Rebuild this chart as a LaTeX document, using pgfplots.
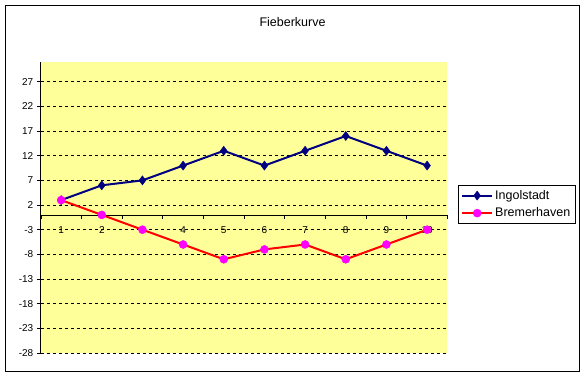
\documentclass[border=0pt]{standalone}
\usepackage{fontspec}
\setmainfont{Liberation Sans}
\usepackage{pgfplots}
\pgfplotsset{compat=1.18}
\definecolor{plotbg}{RGB}{255,255,153}
\definecolor{ing}{RGB}{0,0,128}
\definecolor{brem}{RGB}{255,0,0}
\definecolor{bremmark}{RGB}{255,0,255}
\begin{document}
\begin{tikzpicture}[x=1pt,y=1pt]
\path[use as bounding box] (0,0) rectangle (585,378);
\draw[black, line width=1pt] (5.5,6.5) rectangle (579.5,372.5);
\node[font=\fontsize{12.5}{14}\selectfont] at (292.5,356) {Fieberkurve};
\begin{axis}[at={(40.8pt,25pt)}, anchor=south west, scale only axis,
  width=406.6pt, height=291pt,
  xmin=0.5, xmax=10.5, ymin=-28, ymax=31,
  axis x line=middle, axis y line=left,
  axis line style={-, black, line width=0.8pt},
  axis background/.style={fill=plotbg},
  xtick={1,...,10}, ytick={-28,-23,...,27},
  xtick style={draw=none},
  minor xtick={0.5,1.5,...,10.5},
  minor x tick style={draw=black, line width=0.6pt},
  minor tick length=4pt,
  ytick style={black, line width=0.6pt},
  major tick length=4pt,
  tick align=outside,
  ymajorgrids, major grid style={black, line width=0.6pt, dash pattern=on 3pt off 3pt},
  tick label style={font=\fontsize{10}{12}\selectfont},
  /pgf/number format/assume math mode=true,
  xticklabel style={yshift=-4pt},
  legend style={at={(1.026,0.577)}, anchor=north west, draw=black, fill=white,
    font=\fontsize{12.5}{14}\selectfont, row sep=3pt, inner xsep=3pt, inner ysep=3pt},
  legend cell align=left,
  legend image code/.code={\draw[mark repeat=2,mark phase=2] plot coordinates {(0pt,0pt) (15pt,0pt) (30pt,0pt)};},
  clip=false,
]
\addplot[color=ing, line width=2pt, mark=diamond*, mark size=4.5pt, mark options={fill=ing, draw=ing, line width=0.5pt}]
 coordinates {(1,3) (2,6) (3,7) (4,10) (5,13) (6,10) (7,13) (8,16) (9,13) (10,10)};
\addlegendentry{Ingolstadt}
\addplot[color=brem, line width=2pt, mark=*, mark size=4pt, mark options={fill=bremmark, draw=bremmark, line width=0.5pt}]
 coordinates {(1,3) (2,0) (3,-3) (4,-6) (5,-9) (6,-7) (7,-6) (8,-9) (9,-6) (10,-3)};
\addlegendentry{Bremerhaven}
\end{axis}
\end{tikzpicture}
\end{document}
